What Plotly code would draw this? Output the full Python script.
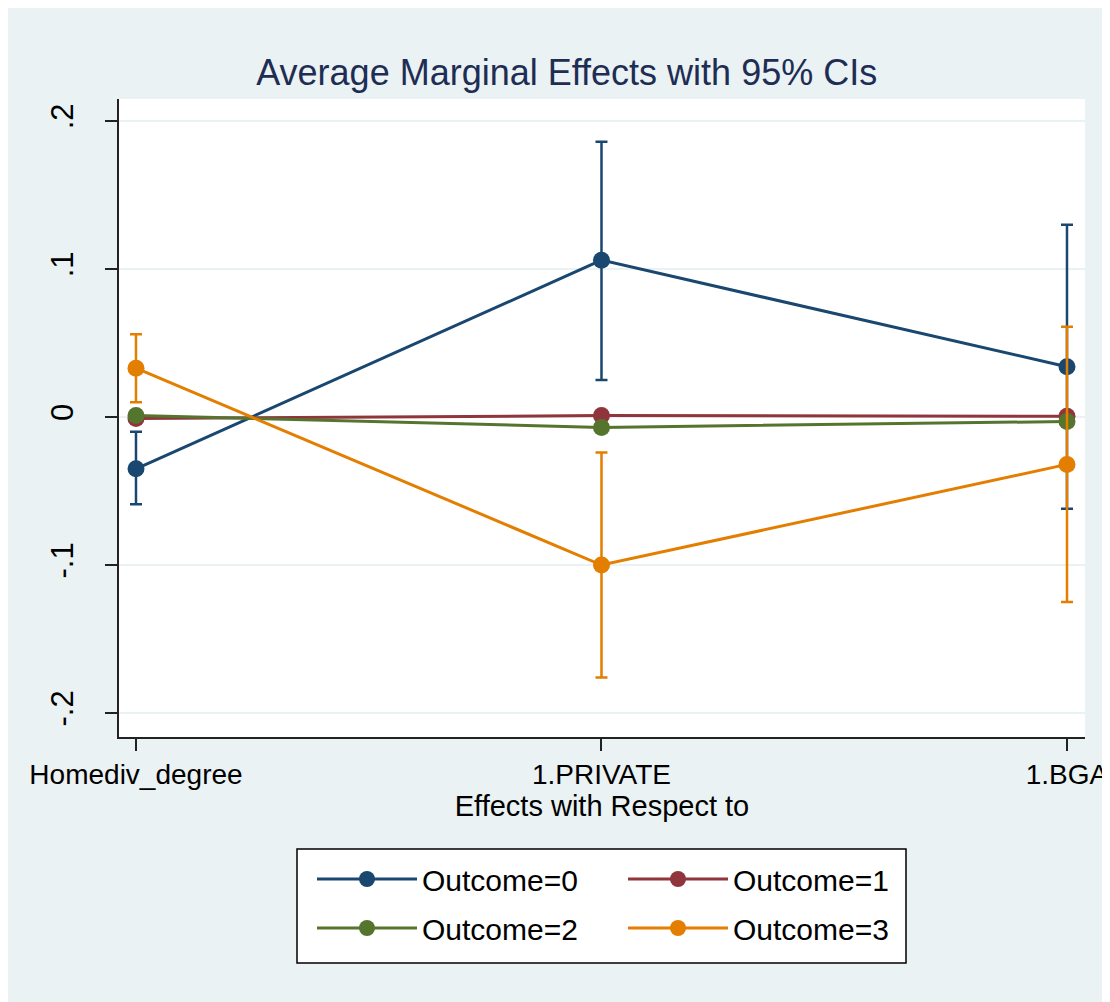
import plotly.graph_objects as go

categories = ["Homediv_degree", "1.PRIVATE", "1.BGA"]
series_names = ["Outcome=0", "Outcome=1", "Outcome=2", "Outcome=3"]

est0 = [-0.035, 0.106, 0.034]
lo0 = [-0.059, 0.025, -0.062]
hi0 = [-0.010, 0.186, 0.130]

est1 = [-0.001, 0.001, 0.0005]
lo1 = [-0.002, -0.001, -0.001]
hi1 = [0.000, 0.003, 0.002]

est2 = [0.001, -0.007, -0.003]
lo2 = [0.000, -0.009, -0.006]
hi2 = [0.003, -0.005, 0.000]

est3 = [0.033, -0.100, -0.032]
lo3 = [0.010, -0.176, -0.125]
hi3 = [0.056, -0.024, 0.061]

y_tickvals = [-0.2, -0.1, 0, 0.1, 0.2]
y_ticktext = ["-.2", "-.1", "0", ".1", ".2"]

colors = ["#1a476f", "#90353b", "#55752f", "#e37e00"]
FONT = "Liberation Sans, Arial, sans-serif"

fig = go.Figure()
all_est = [est0, est1, est2, est3]
all_lo = [lo0, lo1, lo2, lo3]
all_hi = [hi0, hi1, hi2, hi3]
for i, (name, est, lo, hi) in enumerate(zip(series_names, all_est, all_lo, all_hi)):
    fig.add_trace(go.Scatter(
        x=categories, y=est, name=name, mode="lines+markers",
        line=dict(color=colors[i], width=3),
        marker=dict(color=colors[i], size=17),
        error_y=dict(type="data", symmetric=False,
                     array=[h - e for h, e in zip(hi, est)],
                     arrayminus=[e - l for e, l in zip(est, lo)],
                     color=colors[i], thickness=2.5, width=6),
        legend="legend" if i < 2 else "legend2",
    ))

# page has an 8px body margin; figure is sized to fit the window
OFF = 8
W, H = 1102, 994
L, R, T, B = 111, 25, 91, 265
pw, ph = W - L - R, H - T - B

def px_x(page_px):
    return (page_px - OFF - L) / pw

def px_y(page_py):
    return (H - B - (page_py - OFF)) / ph

shapes = [
    dict(type="rect", xref="paper", yref="paper", layer="above",
         x0=px_x(297), x1=px_x(906), y0=px_y(963), y1=px_y(849),
         fillcolor="white", line=dict(color="black", width=1.5)),
]

legend_common = dict(orientation="h", xanchor="left", yanchor="middle",
                     bgcolor="rgba(0,0,0,0)", borderwidth=0,
                     font=dict(family=FONT, size=30, color="black"),
                     entrywidth=196, entrywidthmode="pixels", itemwidth=100)

fig.update_layout(
    width=W, height=H,
    margin=dict(l=L, r=R, t=T, b=B, autoexpand=False),
    paper_bgcolor="#eaf2f3", plot_bgcolor="white",
    shapes=shapes,
    showlegend=True,
    title=dict(text="Average Marginal Effects with 95% CIs",
               font=dict(family=FONT, size=36, color="#1e2d53"),
               x=0.507, xanchor="center", y=1 - (72 - OFF) / H, yanchor="middle"),
    xaxis=dict(type="category", range=[-0.0365, 2.0387],
               showgrid=False, showline=True, linecolor="#222", linewidth=1.5,
               ticks="outside", ticklen=12, tickcolor="#222", tickwidth=1.5,
               tickfont=dict(family=FONT, size=28, color="black"),
               title=dict(text="Effects with Respect to",
                          font=dict(family=FONT, size=29, color="black"),
                          standoff=5),
               zeroline=False),
    yaxis=dict(range=[-0.2162, 0.2149], tickvals=y_tickvals, ticktext=y_ticktext,
               tickangle=-90, showgrid=True, gridcolor="#eaf2f3", gridwidth=2,
               showline=True, linecolor="#222", linewidth=1.5,
               ticks="outside", ticklen=12, tickcolor="#222", tickwidth=1.5,
               tickfont=dict(family=FONT, size=31, color="black"),
               ticklabelstandoff=20, zeroline=False),
    legend=dict(x=px_x(312), y=px_y(879), **legend_common),
    legend2=dict(x=px_x(312), y=px_y(928), **legend_common),
)

fig.write_html("out.html")
